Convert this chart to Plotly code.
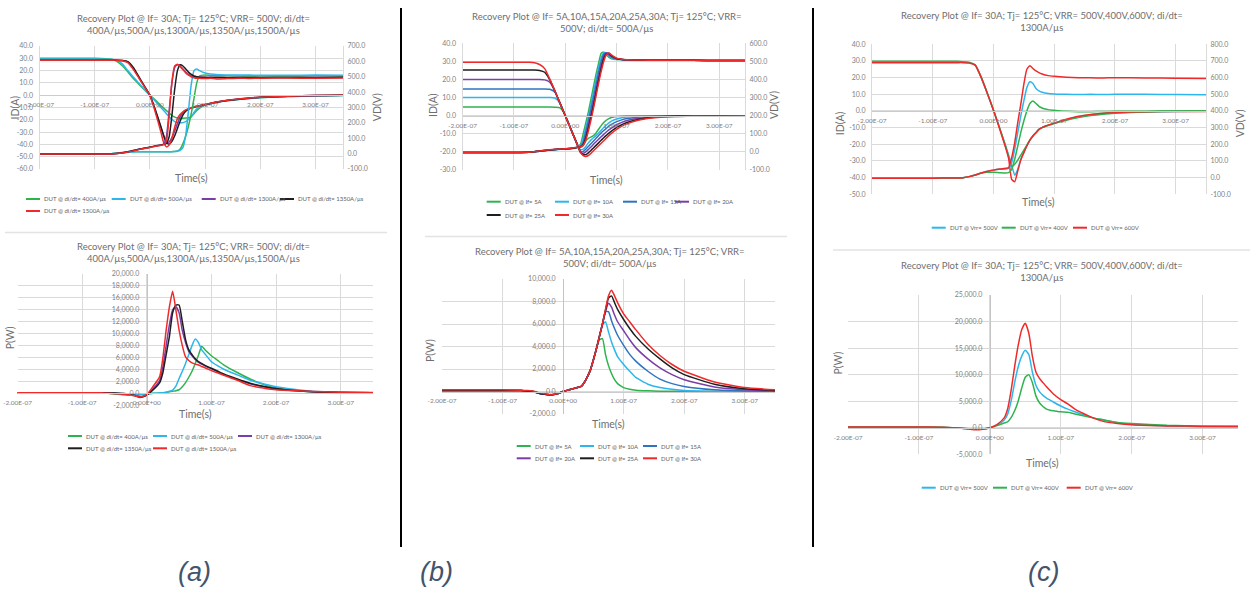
import plotly.graph_objects as go

# ---------------- data (time in ns, currents in A, voltages in V, power in W) ----------------
TIME_NS = [-200, -100, -70, -60, -50, -40, -30, -20, -10, 0, 10, 20, 25, 30, 35, 40, 45, 50, 55, 60,
           65, 70, 75, 80, 85, 90, 100, 110, 120, 140, 160, 180, 200, 250, 300, 350]

X_TICK_NS = [-200, -100, 0, 100, 200, 300]
X_TICK_LABELS = ["-2.00E-07", "-1.00E-07", "0.00E+00", "1.00E-07", "2.00E-07", "3.00E-07"]

A_LABELS = ["DUT @ di/dt= 400A/µs", "DUT @ di/dt= 500A/µs", "DUT @ di/dt= 1300A/µs",
            "DUT @ di/dt= 1350A/µs", "DUT @ di/dt= 1500A/µs"]
B_LABELS = ["DUT @ If= 5A", "DUT @ If= 10A", "DUT @ If= 15A", "DUT @ If= 20A", "DUT @ If= 25A", "DUT @ If= 30A"]
C_LABELS = ["DUT @ Vrr= 500V", "DUT @ Vrr= 400V", "DUT @ Vrr= 600V"]

TITLE_A = "Recovery Plot @ If= 30A; Tj= 125°C; VRR= 500V; di/dt=<br>400A/µs,500A/µs,1300A/µs,1350A/µs,1500A/µs"
TITLE_B = "Recovery Plot @ If= 5A,10A,15A,20A,25A,30A; Tj= 125°C; VRR=<br>500V; di/dt= 500A/µs"
TITLE_C = "Recovery Plot @ If= 30A; Tj= 125°C; VRR= 500V,400V,600V; di/dt=<br>1300A/µs"

# (a) di/dt sweep
A_ID_400 = [30.0, 30.0, 29.2, 27.5, 24.0, 19.0, 13.5, 9.0, 4.5, 0.0, -4.0, -8.5, -10.5, -12.5, -14.5, -16.5, -17.8, -18.5, -18.7, -18.7,
            -18.6, -18.3, -17.5, -15.0, -12.5, -10.5, -8.0, -6.7, -5.8, -4.4, -3.4, -2.6, -2.0, -1.1, -0.6, -0.3]
A_ID_500 = [29.5, 29.5, 29.2, 28.3, 25.5, 20.0, 14.8, 9.8, 4.9, 0.0, -5.0, -10.0, -12.5, -15.0, -17.5, -19.8, -21.5, -22.3, -22.5, -22.3,
            -21.5, -19.8, -17.5, -14.0, -11.0, -9.5, -8.0, -7.0, -6.0, -4.6, -3.4, -2.6, -1.9, -1.0, -0.6, -0.3]
A_ID_1300 = [28.5, 28.5, 28.5, 28.5, 28.2, 27.0, 21.5, 14.5, 7.2, 0.0, -12.5, -26.5, -33.5, -38.5, -38.0, -34.5, -29.0, -23.0, -17.5, -14.0,
             -12.3, -11.2, -10.3, -9.6, -9.0, -8.5, -7.5, -6.6, -5.7, -4.2, -3.1, -2.3, -1.6, -0.8, -0.3, 0.0]
A_ID_1350 = [28.5, 28.5, 28.5, 28.5, 28.3, 27.3, 22.5, 15.0, 7.5, 0.0, -12.0, -25.5, -32.5, -38.5, -39.8, -37.5, -33.0, -27.0, -21.0, -16.0,
             -13.0, -11.5, -10.5, -9.8, -9.2, -8.7, -7.7, -6.8, -5.8, -4.3, -3.2, -2.4, -1.7, -0.8, -0.3, 0.0]
A_ID_1500 = [28.5, 28.5, 28.5, 28.5, 28.0, 26.5, 21.0, 14.0, 7.0, 0.0, -14.0, -30.0, -38.5, -42.0, -40.5, -35.0, -26.0, -19.0, -15.5, -13.5,
             -12.0, -11.0, -10.3, -9.6, -9.0, -8.5, -7.5, -6.6, -5.6, -4.1, -3.0, -2.2, -1.6, -0.8, -0.3, 0.0]
A_VD_400 = [-2, -2, -1, 3, 7, 10, 12, 12, 12, 12, 12, 12, 12, 12, 12, 13, 14, 18, 30, 65,
            115, 180, 260, 360, 460, 505, 512, 508, 507, 506, 505, 506, 505, 505, 506, 505]
A_VD_500 = [-2, -2, -1, 2, 6, 9, 11, 12, 12, 12, 12, 12, 12, 12, 13, 13, 14, 16, 22, 40,
            120, 280, 450, 540, 550, 540, 525, 518, 514, 512, 511, 511, 510, 510, 511, 510]
A_VD_1300 = [-3, -3, -2, 0, 5, 12, 20, 28, 35, 42, 50, 56, 62, 110, 280, 460, 560, 578, 570, 550,
             530, 515, 505, 500, 497, 496, 495, 496, 495, 495, 496, 494, 495, 495, 496, 495]
A_VD_1350 = [-2, -2, -1, 0, 5, 12, 20, 28, 35, 42, 50, 56, 60, 68, 110, 250, 420, 540, 578, 570,
             550, 530, 515, 505, 500, 497, 496, 495, 495, 494, 494, 495, 494, 495, 494, 496]
A_VD_1500 = [-3, -3, -2, 0, 4, 10, 18, 26, 33, 40, 48, 54, 58, 80, 250, 470, 570, 582, 565, 545,
             525, 510, 500, 494, 490, 490, 488, 490, 486, 488, 490, 489, 490, 492, 490, 492]
A_P_400 = [100, 100, 50, 0, -100, -200, -300, -300, -250, -100, 0, 50, 100, 150, 250, 350, 450, 600, 1100, 1800,
           2700, 3700, 5000, 6400, 7900, 7300, 6300, 5500, 4700, 3500, 2400, 1500, 900, 300, 150, 100]
A_P_500 = [100, 100, 80, 50, 0, -100, -150, -200, -200, -100, 0, 50, 100, 200, 350, 560, 1200, 2500, 3700, 5000,
           6500, 8000, 9100, 8500, 7300, 6600, 5300, 4600, 4000, 3100, 2200, 1600, 1100, 400, 150, 100]
A_P_1300 = [100, 100, 100, 50, 0, -50, -100, -300, -700, -300, 800, 2200, 4500, 8000, 11500, 14000, 14500, 13500, 10500, 8500,
            7000, 6300, 5700, 5200, 4900, 4600, 4100, 3600, 3100, 2300, 1600, 1100, 750, 300, 150, 100]
A_P_1350 = [100, 100, 100, 50, 50, 0, -100, -300, -600, -300, 600, 1800, 3500, 6500, 9500, 13500, 14800, 14800, 12000, 9000,
            7300, 6500, 5800, 5300, 5000, 4700, 4200, 3700, 3200, 2400, 1700, 1200, 800, 300, 150, 100]
A_P_1500 = [100, 100, 100, 0, -50, -100, -200, -400, -600, -200, 1200, 2800, 6000, 10600, 14500, 17100, 14000, 10600, 8000, 6100,
            5500, 5100, 4900, 4750, 4500, 4300, 3800, 3400, 3000, 2200, 1300, 900, 600, 350, 200, 150]

# (b) If sweep
B_ID_5 = [4.8, 4.8, 4.8, 4.8, 4.8, 4.8, 4.8, 4.7, 4.3, 0.3, -6.5, -13.5, -16.5, -17.5, -16.5, -14.0, -12.5, -11.8, -11.0, -9.5,
          -7.5, -5.5, -3.8, -2.5, -1.6, -1.0, -0.5, -0.3, -0.2, -0.1, 0.0, 0.0, 0.0, 0.0, 0.0, 0.0]
B_ID_10 = [10.0, 10.0, 10.0, 10.0, 10.0, 10.0, 10.0, 9.8, 6.8, 0.2, -6.6, -13.5, -17.0, -18.8, -18.5, -17.0, -15.0, -13.5, -12.2, -11.0,
           -9.5, -8.0, -6.5, -5.2, -4.0, -3.0, -1.8, -1.1, -0.7, -0.3, -0.1, 0.0, 0.0, 0.0, 0.0, 0.0]
B_ID_15 = [14.8, 14.8, 14.8, 14.8, 14.8, 14.8, 14.6, 13.0, 6.8, 0.0, -6.7, -13.5, -17.0, -19.8, -19.8, -18.5, -17.0, -15.5, -14.0, -12.5,
           -11.0, -9.5, -8.2, -7.0, -5.8, -4.8, -3.3, -2.3, -1.6, -0.8, -0.4, -0.2, -0.1, 0.0, 0.0, 0.0]
B_ID_20 = [20.0, 20.0, 20.0, 20.0, 20.0, 19.8, 18.5, 13.5, 6.8, 0.0, -6.8, -13.6, -17.0, -20.2, -20.8, -20.0, -18.7, -17.3, -15.8, -14.4,
           -13.0, -11.6, -10.3, -9.0, -7.8, -6.8, -5.0, -3.7, -2.7, -1.5, -0.8, -0.4, -0.2, -0.1, 0.0, 0.0]
B_ID_25 = [25.2, 25.2, 25.2, 25.2, 25.0, 24.0, 19.8, 13.6, 6.8, 0.0, -6.8, -13.6, -17.0, -20.4, -21.5, -21.5, -20.5, -19.2, -17.8, -16.4,
           -15.0, -13.6, -12.2, -10.9, -9.6, -8.5, -6.5, -5.0, -3.8, -2.2, -1.3, -0.7, -0.4, -0.1, 0.0, 0.0]
B_ID_30 = [29.5, 29.5, 29.5, 29.3, 28.3, 26.0, 20.2, 13.6, 6.8, 0.0, -6.8, -13.6, -17.0, -20.4, -22.0, -22.5, -22.0, -20.8, -19.4, -18.0,
           -16.6, -15.2, -13.8, -12.4, -11.0, -9.8, -7.6, -5.8, -4.5, -2.7, -1.6, -1.0, -0.6, -0.2, -0.1, 0.0]
B_VD_5 = [-3, -3, -2, 2, 5, 8, 10, 12, 14, 15, 18, 22, 28, 45, 100, 160, 220, 290, 360, 430,
          490, 545, 550, 535, 522, 515, 511, 510, 509, 508, 507, 507, 506, 506, 505, 505]
B_VD_10 = [-3, -3, -2, 1, 4, 7, 10, 12, 14, 15, 18, 22, 26, 35, 75, 135, 195, 260, 330, 400,
           465, 520, 548, 545, 530, 520, 512, 510, 509, 508, 507, 507, 506, 506, 505, 505]
B_VD_15 = [-3, -3, -2, 1, 4, 7, 10, 13, 15, 16, 19, 23, 26, 32, 55, 110, 170, 235, 300, 370,
           440, 500, 540, 546, 535, 524, 514, 511, 509, 508, 507, 507, 506, 506, 505, 505]
B_VD_20 = [-3, -3, -2, 1, 4, 8, 11, 13, 15, 16, 19, 23, 26, 30, 45, 90, 150, 210, 275, 345,
           415, 480, 530, 546, 540, 528, 515, 511, 509, 508, 507, 507, 506, 506, 505, 505]
B_VD_25 = [-3, -3, -2, 1, 5, 8, 11, 13, 15, 17, 19, 23, 26, 29, 40, 75, 130, 190, 255, 325,
           395, 460, 515, 542, 545, 532, 516, 511, 509, 508, 507, 507, 506, 506, 505, 505]
B_VD_30 = [-3, -3, -2, 1, 5, 9, 12, 14, 16, 17, 20, 24, 26, 29, 36, 65, 115, 175, 240, 310,
           380, 445, 500, 538, 546, 536, 518, 512, 509, 508, 507, 507, 506, 506, 505, 505]
B_P_5 = [100, 100, 80, 50, 0, -150, -250, -300, -200, 0, 150, 300, 380, 450, 800, 1300, 1900, 2800, 3800, 4600,
         4700, 3300, 2300, 1600, 1050, 700, 350, 200, 120, 60, 30, 20, 10, 0, 0, 0]
B_P_10 = [100, 100, 80, 50, 0, -150, -250, -300, -200, 0, 150, 300, 380, 450, 800, 1300, 1900, 2800, 3800, 4900,
          5900, 6200, 5300, 4400, 3700, 3100, 2400, 1800, 1250, 650, 350, 200, 100, 30, 0, 0]
B_P_15 = [100, 100, 80, 50, 0, -150, -250, -300, -200, 0, 150, 300, 380, 450, 800, 1300, 1900, 2800, 3800, 4900,
          6000, 7100, 7100, 6300, 5600, 5000, 4100, 3300, 2700, 1800, 1100, 700, 450, 150, 50, 0]
B_P_20 = [100, 100, 80, 50, 0, -150, -250, -300, -200, 0, 150, 300, 380, 450, 800, 1300, 1900, 2800, 3800, 4900,
          6000, 7100, 7850, 7500, 6800, 6200, 5400, 4600, 3900, 2900, 2100, 1500, 1050, 400, 150, 50]
B_P_25 = [100, 100, 80, 50, 0, -150, -250, -300, -200, 0, 150, 300, 380, 450, 800, 1300, 1900, 2800, 3800, 4900,
          6000, 7200, 8300, 8500, 7900, 7300, 6400, 5600, 4900, 3800, 2900, 2100, 1500, 650, 250, 100]
B_P_30 = [150, 150, 120, 100, 50, -100, -200, -300, -200, 0, 150, 300, 380, 450, 800, 1300, 1900, 2800, 3800, 4900,
          6000, 7300, 8500, 9000, 8500, 7900, 6900, 6200, 5500, 4200, 3200, 2400, 1800, 850, 350, 150]

# (c) VRR sweep
C_ID_500 = [29.5, 29.5, 29.5, 29.5, 29.4, 29.0, 27.5, 20.0, 10.5, 0.5, -10.0, -21.0, -26.5, -32.5, -38.5, -35.0, -29.0, -25.0, -21.0, -17.5,
            -15.0, -13.0, -11.0, -10.0, -9.2, -8.5, -7.3, -6.2, -5.2, -3.4, -2.2, -1.5, -1.1, -0.6, -0.3, -0.2]
C_ID_400 = [29.8, 29.8, 29.8, 29.8, 29.6, 29.2, 27.5, 20.0, 10.5, 0.5, -10.0, -21.0, -27.5, -33.5, -32.0, -29.5, -26.5, -23.5, -20.5, -17.5,
            -15.0, -13.0, -11.0, -10.0, -9.3, -8.7, -7.6, -6.5, -5.6, -4.0, -2.8, -1.9, -1.3, -0.6, -0.2, 0.0]
C_ID_600 = [29.0, 29.0, 29.0, 29.0, 29.0, 28.8, 27.5, 20.0, 10.5, 0.5, -10.5, -22.0, -28.5, -41.0, -42.5, -36.0, -29.5, -25.0, -21.0, -17.5,
            -15.0, -13.0, -11.0, -10.0, -9.2, -8.5, -7.3, -6.1, -5.0, -3.2, -2.1, -1.3, -0.9, -0.5, -0.3, -0.3]
C_VD_500 = [-3, -3, -2, -2, 0, 6, 16, 28, 38, 45, 50, 52, 55, 90, 170, 270, 370, 460, 540, 575,
            565, 535, 520, 512, 508, 505, 502, 500, 500, 499, 500, 499, 500, 500, 499, 498]
C_VD_400 = [-3, -3, -2, -2, 0, 6, 16, 28, 32, 32, 30, 28, 30, 50, 110, 190, 270, 340, 400, 445,
            460, 445, 428, 418, 412, 408, 404, 400, 398, 396, 396, 397, 398, 399, 400, 400]
C_VD_600 = [-3, -3, -2, -2, 0, 6, 16, 28, 38, 45, 52, 56, 60, 120, 210, 330, 440, 560, 650, 672,
            655, 640, 630, 622, 616, 612, 608, 605, 603, 600, 599, 598, 600, 598, 597, 595]
C_P_500 = [100, 100, 80, 50, 0, -100, -200, -300, -250, 0, 500, 1400, 2500, 5000, 8500, 11500, 13500, 14600, 13800, 10500,
           8000, 6800, 6100, 5600, 5200, 4800, 4100, 3500, 3000, 2100, 1450, 950, 650, 350, 200, 200]
C_P_400 = [150, 150, 100, 50, 0, -100, -200, -300, -250, 0, 400, 900, 1100, 1900, 3200, 5000, 7500, 9500, 10000, 8500,
           6000, 4700, 4000, 3500, 3300, 3200, 3000, 2900, 2600, 2000, 1500, 1000, 800, 450, 300, 250]
C_P_600 = [150, 150, 100, 50, 0, -100, -250, -400, -300, 0, 600, 1800, 3500, 7000, 11500, 15500, 18500, 19700, 17800, 13500,
           10500, 9300, 8500, 7700, 7000, 6300, 5300, 4500, 3500, 2200, 1200, 800, 550, 350, 300, 300]

# axis tick values
A_ID_TICKS = [-60, -50, -40, -30, -20, -10, 0, 10, 20, 30, 40]
A_VD_TICKS = [-100, 0, 100, 200, 300, 400, 500, 600, 700]
A_P_TICKS = [-2000, 0, 2000, 4000, 6000, 8000, 10000, 12000, 14000, 16000, 18000, 20000]
B_ID_TICKS = [-30, -20, -10, 0, 10, 20, 30, 40]
B_VD_TICKS = [-100, 0, 100, 200, 300, 400, 500, 600]
B_P_TICKS = [-2000, 0, 2000, 4000, 6000, 8000, 10000]
C_ID_TICKS = [-50, -40, -30, -20, -10, 0, 10, 20, 30, 40]
C_VD_TICKS = [-100, 0, 100, 200, 300, 400, 500, 600, 700, 800]
C_P_TICKS = [-5000, 0, 5000, 10000, 15000, 20000, 25000]

# ---------------- styling ----------------
GREEN = "#2fb34f"
CYAN = "#2cb6ec"
BLUE = "#2f74c0"
PURPLE = "#7a3ea8"
BLACK = "#1e1e1e"
RED = "#f02a2a"
A_COLORS = [GREEN, CYAN, PURPLE, BLACK, RED]
B_COLORS = [GREEN, CYAN, BLUE, PURPLE, BLACK, RED]
C_COLORS = [CYAN, GREEN, RED]

FONT = "Lato, 'Open Sans', sans-serif"
W, H = 1250, 589
GRID = "#dadada"
TITLE_COL = "#6e6e6e"
TICK_COL = "#7f7f7f"


def fx(p):
    return p / W


def fy(p):
    return 1 - p / H


T_SEC = [t * 1e-9 for t in TIME_NS]
X_TICKS = [t * 1e-9 for t in X_TICK_NS]

fig = go.Figure()
layout = {}
shapes = []
annotations = []


def add_series(xa, ya, values, color, width=1.5):
    fig.add_trace(go.Scatter(
        x=T_SEC, y=values, mode="lines", xaxis=xa, yaxis=ya, showlegend=False, hoverinfo="skip",
        line=dict(color=color, width=width, shape="spline", smoothing=0.5)))


def x_axis(key, left_px, right_px, cross_px):
    layout[key] = dict(
        domain=[fx(left_px), fx(right_px)], range=[-2e-7, 3.5e-7], anchor="free", position=fy(cross_px),
        tickmode="array", tickvals=X_TICKS, ticktext=X_TICK_LABELS, automargin=False,
        showgrid=True, gridcolor=GRID, gridwidth=1, zeroline=False,
        showline=True, linecolor="#cccccc", linewidth=1,
        ticks="outside", ticklen=3, tickcolor="rgba(0,0,0,0)",
        tickfont=dict(size=6.5, color=TICK_COL, family=FONT), fixedrange=True)


def y_axis(key, xkey, top_px, bot_px, rng, ticks, fmt, side="left", overlay=None,
           free_pos=None, grid=True, ticklen=4):
    d = dict(
        domain=[fy(bot_px), fy(top_px)], range=rng, side=side, automargin=False,
        tickmode="array", tickvals=ticks, ticktext=[fmt.format(v) for v in ticks],
        showgrid=grid, gridcolor=GRID, gridwidth=1, zeroline=False,
        ticks="outside", ticklen=ticklen, tickcolor="rgba(0,0,0,0)",
        tickfont=dict(size=7, color=TICK_COL, family=FONT), fixedrange=True,
        showline=True, linecolor=GRID, linewidth=1)
    if free_pos is not None:
        d["anchor"] = "free"
        d["position"] = fx(free_pos)
        d["linecolor"] = "#c4c4c4"
    else:
        d["anchor"] = xkey
    if overlay:
        d["overlaying"] = overlay
    layout[key] = d


def text(x, y, s, size, color=TITLE_COL, angle=0, anchor="center"):
    annotations.append(dict(x=fx(x), y=fy(y), xref="paper", yref="paper", text=s, showarrow=False,
                            textangle=angle, xanchor=anchor, yanchor="middle",
                            font=dict(size=size, color=color, family=FONT)))


def legend(entries, labels, colors):
    for (x0, y), lab, col in zip(entries, labels, colors):
        shapes.append(dict(type="line", xref="paper", yref="paper", x0=fx(x0), x1=fx(x0 + 14),
                           y0=fy(y), y1=fy(y), line=dict(color=col, width=2)))
        text(x0 + 16, y, lab, 6, color="#5f5f5f", anchor="left")


# ---------- panel (a) top: ID / VD ----------
x_axis("xaxis", 39.5, 343, 95.2)
y_axis("yaxis", "x", 46, 169, [-60, 40], A_ID_TICKS, "{:.1f}")
y_axis("yaxis2", "x", 46, 169, [-100, 700], A_VD_TICKS, "{:.1f}", side="right", overlay="y", grid=False, ticklen=2)
for idv, vdv, col in zip([A_ID_400, A_ID_500, A_ID_1300, A_ID_1350, A_ID_1500],
                         [A_VD_400, A_VD_500, A_VD_1300, A_VD_1350, A_VD_1500], A_COLORS):
    add_series("x", "y", idv, col)
    add_series("x", "y2", vdv, col)

# ---------- panel (a) bottom: P ----------
x_axis("xaxis2", 17.5, 373, 393.4)
y_axis("yaxis3", "x2", 274, 405.3, [-2000, 20000], A_P_TICKS, "{:,.1f}", free_pos=146.8, ticklen=6)
for pv, col in zip([A_P_400, A_P_500, A_P_1300, A_P_1350, A_P_1500], A_COLORS):
    add_series("x2", "y3", pv, col)

# ---------- panel (b) top ----------
x_axis("xaxis3", 462.5, 745, 115.7)
y_axis("yaxis4", "x3", 43.3, 170, [-30, 40], B_ID_TICKS, "{:.1f}")
y_axis("yaxis5", "x3", 43.3, 170, [-100, 600], B_VD_TICKS, "{:.1f}", side="right", overlay="y4", grid=False, ticklen=2)
for idv, vdv, col in zip([B_ID_5, B_ID_10, B_ID_15, B_ID_20, B_ID_25, B_ID_30],
                         [B_VD_5, B_VD_10, B_VD_15, B_VD_20, B_VD_25, B_VD_30], B_COLORS):
    add_series("x3", "y4", idv, col)
    add_series("x3", "y5", vdv, col)

# ---------- panel (b) bottom ----------
x_axis("xaxis4", 442, 775, 391.5)
y_axis("yaxis6", "x4", 279, 414, [-2000, 10000], B_P_TICKS, "{:,.1f}", free_pos=563.1, ticklen=6)
for pv, col in zip([B_P_5, B_P_10, B_P_15, B_P_20, B_P_25, B_P_30], B_COLORS):
    add_series("x4", "y6", pv, col)

# ---------- panel (c) top ----------
x_axis("xaxis5", 872, 1206, 111)
y_axis("yaxis7", "x5", 44.3, 194.3, [-50, 40], C_ID_TICKS, "{:.1f}")
y_axis("yaxis8", "x5", 44.3, 194.3, [-100, 800], C_VD_TICKS, "{:.1f}", side="right", overlay="y7", grid=False, ticklen=2)
for idv, vdv, col in zip([C_ID_500, C_ID_400, C_ID_600], [C_VD_500, C_VD_400, C_VD_600], C_COLORS):
    add_series("x5", "y7", idv, col)
    add_series("x5", "y8", vdv, col)

# ---------- panel (c) bottom ----------
x_axis("xaxis6", 848, 1238, 427.75)
y_axis("yaxis9", "x6", 295, 454.3, [-5000, 25000], C_P_TICKS, "{:,.1f}", free_pos=989.8, ticklen=6)
for pv, col in zip([C_P_500, C_P_400, C_P_600], C_COLORS):
    add_series("x6", "y9", pv, col)

# ---------- titles ----------
text(193, 25, TITLE_A, 9.5)
text(193, 252.5, TITLE_A, 9.5)
text(607, 22.5, TITLE_B, 9.5)
text(610, 257.5, TITLE_B, 9.5)
text(1042, 21, TITLE_C, 9.5)
text(1042, 271.5, TITLE_C, 9.5)

# ---------- axis titles ----------
text(14, 107.5, "ID(A)", 10.5, angle=-90)
text(376.7, 107.5, "VD(V)", 10.5, angle=-90)
text(191.7, 178.3, "Time(s)", 10.5)
text(10, 338.3, "P(W)", 10.5, angle=-90)
text(195, 414.3, "Time(s)", 10.5)
text(433, 105, "ID(A)", 10.5, angle=-90)
text(774, 105, "VD(V)", 10.5, angle=-90)
text(606.7, 180, "Time(s)", 10.5)
text(430, 350, "P(W)", 10.5, angle=-90)
text(608.3, 424, "Time(s)", 10.5)
text(840, 123.3, "ID(A)", 10.5, angle=-90)
text(1240, 123.3, "VD(V)", 10.5, angle=-90)
text(1038.3, 202.3, "Time(s)", 10.5)
text(838.3, 363.3, "P(W)", 10.5, angle=-90)
text(1042.7, 462.7, "Time(s)", 10.5)

# ---------- legends ----------
legend([(26, 199), (111.7, 199), (201.7, 199), (280, 199), (26, 211)], A_LABELS, A_COLORS)
legend([(68, 436), (153, 436), (238, 436), (68, 448.3), (153, 448.3)], A_LABELS, A_COLORS)
legend([(486.7, 201.7), (555, 201.7), (623, 201.7), (675, 201.7), (486.7, 215), (555, 215)], B_LABELS, B_COLORS)
legend([(516.7, 446), (580, 446), (643, 446), (516.7, 458.3), (580, 458.3), (643, 458.3)], B_LABELS, B_COLORS)
legend([(931.7, 227.7), (1001.7, 227.7), (1073, 227.7)], C_LABELS, C_COLORS)
legend([(921.7, 487.7), (993, 487.7), (1066.7, 487.7)], C_LABELS, C_COLORS)

# ---------- figure decorations: separators and panel labels ----------
for (x0, x1, y) in [(5, 387, 232.5), (425, 787, 236.5), (833, 1250, 250)]:
    shapes.append(dict(type="line", xref="paper", yref="paper", x0=fx(x0), x1=fx(x1), y0=fy(y), y1=fy(y),
                       line=dict(color="#e3e3e3", width=1.5)))
for xv in [401, 813]:
    shapes.append(dict(type="line", xref="paper", yref="paper", x0=fx(xv), x1=fx(xv), y0=fy(8), y1=fy(547),
                       line=dict(color="#000000", width=2)))
for lab, xc in [("(a)", 194), ("(b)", 436.5), ("(c)", 1043.5)]:
    annotations.append(dict(x=fx(xc), y=fy(572), xref="paper", yref="paper", text="<i>" + lab + "</i>",
                            showarrow=False, xanchor="center", yanchor="middle",
                            font=dict(size=27, color="#44546a", family="'Liberation Sans', Arial, sans-serif")))

fig.update_layout(
    width=W, height=H, autosize=False,
    margin=dict(l=0, r=0, t=0, b=0, pad=0, autoexpand=False),
    paper_bgcolor="white", plot_bgcolor="white",
    showlegend=False, shapes=shapes, annotations=annotations,
    font=dict(family=FONT, color=TITLE_COL), **layout)

fig.write_html("out.html", config={"displayModeBar": False, "staticPlot": True},
               post_script="document.body.style.margin='0px';document.body.style.overflow='hidden';")
